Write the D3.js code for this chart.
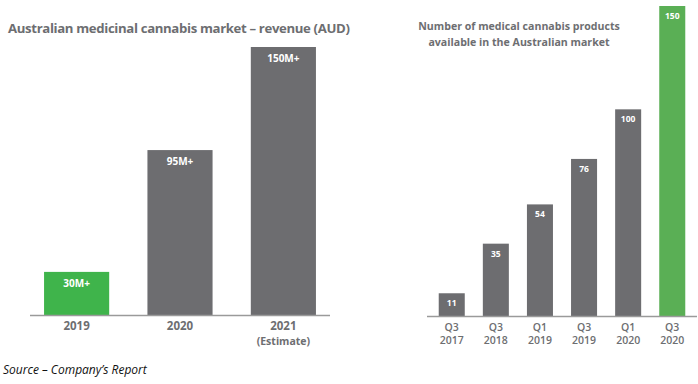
<!DOCTYPE html>
<html>
<head>
<meta charset="utf-8">
<script src="https://cdn.jsdelivr.net/npm/d3@7"></script>
<style>
  body { margin: 0; background: #fff; }
  svg { display: block; }
</style>
</head>
<body>
<svg id="chart" width="698" height="384"></svg>
<script>
// revenue chart
const revYears = ['2019', '2020', '2021'];
const revSub = ['', '', '(Estimate)'];
const revValues = [30, 95, 150];
const revLabels = ['30M+', '95M+', '150M+'];

// products chart
const prodQuarters = ['Q3', 'Q3', 'Q1', 'Q3', 'Q1', 'Q3'];
const prodYears = ['2017', '2018', '2019', '2019', '2020', '2020'];
const prodValues = [11, 35, 54, 76, 100, 150];

const grey = '#6d6d70';
const txtGrey = '#6d6e71';
const font = '"Open Sans", sans-serif';

const svg = d3.select('#chart');

function drawRevenue() {
  const g = svg.append('g');
  const x = d3.scaleBand().domain(revYears).range([30, 330]).paddingInner(0.37).paddingOuter(0.136);
  const y = d3.scaleLinear().domain([7, 150]).range([315, 47]);

  g.append('text')
    .attr('x', 8)
    .attr('y', 33)
    .attr('fill', txtGrey)
    .attr('font-family', font)
    .attr('font-weight', 700)
    .attr('font-size', 13.2)
    .attr('textLength', 342)
    .text('Australian medicinal cannabis market \u2013 revenue (AUD)');

  g.selectAll('.bar')
    .data(revValues)
    .enter()
    .append('rect')
    .attr('x', (d, i) => x(revYears[i]))
    .attr('width', x.bandwidth())
    .attr('y', (d) => y(d))
    .attr('height', (d) => y(7) - y(d))
    .attr('fill', (d, i) => (i === 0 ? '#3fb44b' : grey));

  g.selectAll('.val')
    .data(revValues)
    .enter()
    .append('text')
    .attr('x', (d, i) => x(revYears[i]) + x.bandwidth() / 2)
    .attr('y', (d) => y(d) + 15)
    .attr('text-anchor', 'middle')
    .attr('fill', '#fff')
    .attr('font-family', font)
    .attr('font-weight', 700)
    .attr('font-size', 10)
    .text((d, i) => revLabels[i]);

  g.append('line')
    .attr('x1', 30).attr('x2', 330)
    .attr('y1', 315.5).attr('y2', 315.5)
    .attr('stroke', '#9a9a9a')
    .attr('stroke-width', 1.5);

  g.selectAll('.cat')
    .data(revYears)
    .enter()
    .append('text')
    .attr('x', (d) => x(d) + x.bandwidth() / 2)
    .attr('y', 330)
    .attr('text-anchor', 'middle')
    .attr('fill', txtGrey)
    .attr('font-family', font)
    .attr('font-weight', 700)
    .attr('font-size', 11.5)
    .text((d) => d);

  g.selectAll('.sub')
    .data(revSub)
    .enter()
    .append('text')
    .attr('x', (d, i) => x(revYears[i]) + x.bandwidth() / 2)
    .attr('y', 344.5)
    .attr('text-anchor', 'middle')
    .attr('fill', txtGrey)
    .attr('font-family', font)
    .attr('font-weight', 700)
    .attr('font-size', 10.5)
    .text((d) => d);
}

function drawProducts() {
  const g = svg.append('g');
  const ids = prodValues.map((d, i) => i);
  const x = d3.scaleBand().domain(ids).range([427, 697]).paddingInner(0.41).paddingOuter(0.266);
  const y = d3.scaleLinear().domain([0, 150]).range([316, 6]);

  g.selectAll('.title')
    .data(['Number of medical cannabis products', 'available in the Australian market'])
    .enter()
    .append('text')
    .attr('x', 519)
    .attr('y', (d, i) => 30 + i * 16)
    .attr('text-anchor', 'middle')
    .attr('fill', txtGrey)
    .attr('font-family', font)
    .attr('font-weight', 700)
    .attr('font-size', 10.6)
    .text((d) => d);

  g.selectAll('.bar')
    .data(prodValues)
    .enter()
    .append('rect')
    .attr('x', (d, i) => x(i))
    .attr('width', x.bandwidth())
    .attr('y', (d) => y(d))
    .attr('height', (d) => y(0) - y(d))
    .attr('fill', (d, i) => (i === prodValues.length - 1 ? '#5aaf55' : grey));

  g.selectAll('.val')
    .data(prodValues)
    .enter()
    .append('text')
    .attr('x', (d, i) => x(i) + x.bandwidth() / 2)
    .attr('y', (d) => y(d) + 13)
    .attr('text-anchor', 'middle')
    .attr('fill', '#fff')
    .attr('font-family', font)
    .attr('font-weight', 700)
    .attr('font-size', 8.5)
    .text((d) => d);

  g.append('line')
    .attr('x1', 427).attr('x2', 697)
    .attr('y1', 316.5).attr('y2', 316.5)
    .attr('stroke', '#9a9a9a')
    .attr('stroke-width', 1.5);

  g.selectAll('.q')
    .data(prodQuarters)
    .enter()
    .append('text')
    .attr('x', (d, i) => x(i) + x.bandwidth() / 2)
    .attr('y', 331)
    .attr('text-anchor', 'middle')
    .attr('fill', txtGrey)
    .attr('font-family', font)
    .attr('font-weight', 600)
    .attr('font-size', 10.5)
    .text((d) => d);

  g.selectAll('.yr')
    .data(prodYears)
    .enter()
    .append('text')
    .attr('x', (d, i) => x(i) + x.bandwidth() / 2)
    .attr('y', 344)
    .attr('text-anchor', 'middle')
    .attr('fill', txtGrey)
    .attr('font-family', font)
    .attr('font-weight', 600)
    .attr('font-size', 10.5)
    .text((d) => d);
}

drawRevenue();
drawProducts();

svg.append('text')
  .attr('x', 3)
  .attr('y', 374)
  .attr('fill', '#111')
  .attr('font-family', '"Open Sans", sans-serif')
  .attr('font-style', 'italic')
  .attr('font-size', 12)
  .text('Source \u2013 Company\u2019s Report');
</script>
</body>
</html>
